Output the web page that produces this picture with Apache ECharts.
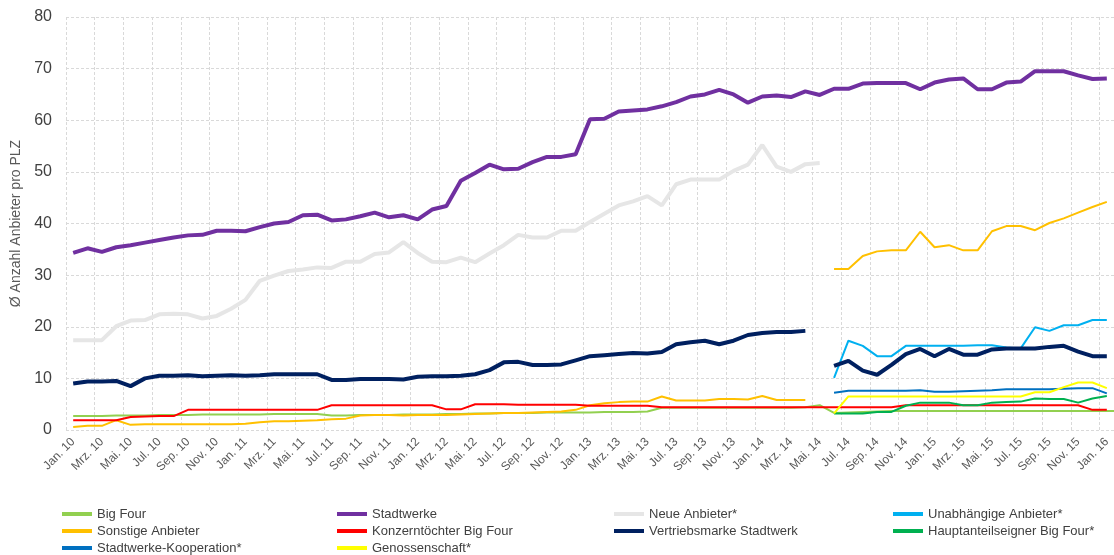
<!DOCTYPE html>
<html>
<head>
<meta charset="utf-8">
<script src="https://cdn.jsdelivr.net/npm/echarts@6/dist/echarts.min.js"></script>
<style>
html,body{margin:0;padding:0;background:#fff;}
#chart{width:1114px;height:555px;}
</style>
</head>
<body>
<div id="chart"></div>
<script>
// Tick label parts
const monthNames = ['Jan.','Feb.','Mrz.','Apr.','Mai.','Jun.','Jul.','Aug.','Sep.','Okt.','Nov.','Dez.'];
const years = ['10','11','12','13','14','15','16'];

// Series values (Jan. 10 .. Jan. 16, monthly)
const bigFour = [2.7,2.7,2.7,2.8,2.8,2.8,2.9,2.9,2.9,3.0,3.0,3.0,3.0,3.0,3.1,3.1,3.1,3.1,
  2.8,2.8,2.9,2.9,2.9,3.0,3.0,3.0,3.1,3.1,3.2,3.2,3.3,3.3,3.3,3.4,3.4,3.4,3.4,3.5,3.5,3.5,3.6,
  4.3,4.3,4.3,4.3,4.3,4.3,4.3,4.3,4.3,4.3,4.4,4.8,
  3.3,3.4,3.5,3.6,3.7,3.7,3.7,3.7,3.7,3.7,3.7,3.7,3.7,3.7,3.7,3.7,3.7,3.7,3.7,3.7,3.7];
const stadtwerke = [34.3,35.2,34.5,35.4,35.8,36.3,36.8,37.3,37.7,37.8,38.6,38.6,38.5,39.3,40.0,40.3,41.6,41.7,
  40.6,40.8,41.4,42.1,41.2,41.6,40.8,42.7,43.4,48.3,49.8,51.4,50.5,50.6,51.9,52.9,52.9,53.4,
  60.2,60.3,61.7,61.9,62.1,62.7,63.5,64.6,65.0,65.9,65.0,63.4,64.6,64.8,64.5,65.6,64.9,
  66.1,66.1,67.1,67.2,67.2,67.2,66.0,67.3,67.9,68.1,66.0,66.0,67.3,67.5,69.5,69.5,69.5,68.7,68.0,68.1];
const neueAnbieter = [17.4,17.4,17.4,20.1,21.2,21.3,22.4,22.5,22.4,21.6,22.1,23.5,25.2,28.9,29.9,30.8,31.1,31.5,
  31.4,32.6,32.6,34.1,34.4,36.4,34.3,32.6,32.5,33.4,32.5,34.2,35.8,37.8,37.3,37.3,38.6,38.6,
  40.3,41.9,43.5,44.3,45.3,43.5,47.6,48.5,48.5,48.5,50.2,51.4,55.2,51.0,50.0,51.5,51.7];
const sonstigeAnbieter1 = [0.6,0.8,0.8,1.9,1.0,1.1,1.1,1.1,1.1,1.1,1.1,1.1,1.2,1.5,1.7,1.7,1.8,1.9,
  2.1,2.2,2.8,2.9,2.9,2.8,2.9,2.9,2.9,3.0,3.1,3.2,3.3,3.3,3.4,3.5,3.6,3.9,
  4.8,5.2,5.4,5.5,5.5,6.5,5.7,5.7,5.7,6.0,6.0,5.9,6.6,5.8,5.8,5.8];
const sonstigeAnbieter2 = [31.2,31.2,33.7,34.6,34.8,34.8,38.4,35.4,35.8,34.8,34.8,38.5,39.5,39.5,38.7,40.1,41.0,42.1,43.2,44.2];
const konzerntoechter = [1.9,1.9,1.9,1.9,2.5,2.6,2.7,2.7,3.9,3.9,3.9,3.9,3.9,3.9,3.9,3.9,3.9,3.9,
  4.8,4.8,4.8,4.8,4.8,4.8,4.8,4.8,4.0,4.0,5.0,5.0,5.0,4.9,4.9,4.9,4.9,4.9,
  4.7,4.7,4.7,4.7,4.7,4.4,4.4,4.4,4.4,4.4,4.4,4.4,4.4,4.4,4.4,4.4,4.4,
  4.4,4.4,4.4,4.4,4.4,4.8,4.8,4.8,4.8,4.8,4.8,4.8,4.8,4.8,4.8,4.8,4.8,4.8,3.9,3.9];
const vertriebsmarke1 = [9.0,9.4,9.4,9.5,8.5,10.0,10.5,10.5,10.6,10.4,10.5,10.6,10.5,10.6,10.8,10.8,10.8,10.8,
  9.7,9.7,9.9,9.9,9.9,9.8,10.3,10.4,10.4,10.5,10.8,11.6,13.1,13.2,12.6,12.6,12.7,13.5,
  14.3,14.5,14.7,14.9,14.8,15.1,16.6,17.0,17.3,16.6,17.3,18.4,18.8,19.0,19.0,19.2];
const vertriebsmarke2 = [12.4,13.4,11.5,10.7,12.6,14.7,15.7,14.3,15.7,14.6,14.6,15.6,15.8,15.8,15.8,16.1,16.3,15.2,14.3,14.3];
// Series starting Jun. 14
const unabhaengige = [10.1,17.3,16.3,14.3,14.3,16.3,16.3,16.3,16.3,16.3,16.4,16.4,16.0,15.8,19.9,19.2,20.3,20.3,21.3,21.3];
const hauptanteilseigner = [3.2,3.2,3.2,3.5,3.5,4.7,5.3,5.3,5.3,4.8,4.8,5.3,5.4,5.5,6.1,6.0,6.0,5.3,6.1,6.6];
const kooperation = [7.2,7.6,7.6,7.6,7.6,7.6,7.7,7.4,7.4,7.5,7.6,7.7,7.9,7.9,7.9,7.9,8.0,8.1,8.1,7.1];
const genossenschaft = [3.2,6.5,6.5,6.5,6.5,6.5,6.5,6.5,6.5,6.5,6.5,6.5,6.5,6.5,7.3,7.3,8.3,9.2,9.2,8.1];

// categories Jan. 10 .. Jan. 16
const categories = [];
years.forEach((y, yi) => {
  monthNames.forEach(m => {
    if (yi < years.length - 1 || m === 'Jan.') categories.push(m + ' ' + y);
  });
});
const N = categories.length; // 73
const secondStart = 53; // Jun. 14

function full(arr) { const a = arr.slice(); while (a.length < N) a.push(null); return a; }
function late(arr) { const a = []; for (let i = 0; i < secondStart; i++) a.push(null); return full(a.concat(arr)); }
function split(a1, a2) { const a = a1.slice(); while (a.length < secondStart) a.push(null); return full(a.concat(a2)); }

const seriesData = {
  'Big Four': full(bigFour),
  'Stadtwerke': full(stadtwerke),
  'Neue Anbieter*': full(neueAnbieter),
  'Unabhängige Anbieter*': late(unabhaengige),
  'Sonstige Anbieter': split(sonstigeAnbieter1, sonstigeAnbieter2),
  'Konzerntöchter Big Four': full(konzerntoechter),
  'Vertriebsmarke Stadtwerk': split(vertriebsmarke1, vertriebsmarke2),
  'Hauptanteilseigner Big Four*': late(hauptanteilseigner),
  'Stadtwerke-Kooperation*': late(kooperation),
  'Genossenschaft*': late(genossenschaft)
};
const colors = {
  'Big Four': '#92D050', 'Stadtwerke': '#7030A0', 'Neue Anbieter*': '#E6E6E6',
  'Unabhängige Anbieter*': '#00B0F0', 'Sonstige Anbieter': '#FFC000',
  'Konzerntöchter Big Four': '#FF0000', 'Vertriebsmarke Stadtwerk': '#002060',
  'Hauptanteilseigner Big Four*': '#00B050', 'Stadtwerke-Kooperation*': '#0070C0',
  'Genossenschaft*': '#FFFF00'
};
const thick = { 'Stadtwerke': 4, 'Neue Anbieter*': 4, 'Vertriebsmarke Stadtwerk': 4 };
const drawOrder = ['Neue Anbieter*','Big Four','Sonstige Anbieter','Konzerntöchter Big Four','Hauptanteilseigner Big Four*',
  'Stadtwerke-Kooperation*','Genossenschaft*','Unabhängige Anbieter*','Vertriebsmarke Stadtwerk','Stadtwerke'];

const FONT = '"Liberation Sans", Arial, sans-serif';
const legendCols = [
  { left: 62, data: ['Big Four','Sonstige Anbieter','Stadtwerke-Kooperation*'] },
  { left: 337, data: ['Stadtwerke','Konzerntöchter Big Four','Genossenschaft*'] },
  { left: 614, data: ['Neue Anbieter*','Vertriebsmarke Stadtwerk'] },
  { left: 893, data: ['Unabhängige Anbieter*','Hauptanteilseigner Big Four*'] }
];

const chart = echarts.init(document.getElementById('chart'), null, { renderer: 'canvas' });
chart.setOption({
  animation: false,
  backgroundColor: '#fff',
  textStyle: { fontFamily: FONT },
  grid: { left: 66, top: 17, width: 1052, height: 413, containLabel: false },
  legend: legendCols.map(c => ({
    orient: 'vertical', left: c.left, top: 507, height: 48, itemGap: 3,
    itemWidth: 30, itemHeight: 4, icon: 'rect', padding: 0,
    selectedMode: false,
    textStyle: { fontFamily: FONT, fontSize: 13, color: '#404040', lineHeight: 14 },
    data: c.data
  })),
  xAxis: {
    type: 'category', data: categories, boundaryGap: true,
    axisLine: { show: false }, axisTick: { show: false },
    axisLabel: { interval: 1, rotate: 45, fontSize: 12, color: '#595959', margin: 10, fontFamily: FONT },
    splitLine: { show: true, interval: 1, lineStyle: { color: '#D9D9D9', type: [3, 2], width: 1 } }
  },
  yAxis: {
    type: 'value', min: 0, max: 80, interval: 10,
    name: 'Ø Anzahl Anbieter pro PLZ', nameLocation: 'middle', nameGap: 42,
    nameTextStyle: { fontSize: 14, color: '#595959', fontFamily: FONT },
    axisLine: { show: false }, axisTick: { show: false },
    axisLabel: { fontSize: 16, color: '#404040', margin: 14, fontFamily: FONT },
    splitLine: { lineStyle: { color: '#D9D9D9', type: [3, 2], width: 1 } }
  },
  series: drawOrder.map(name => ({
    name: name, type: 'line', data: seriesData[name],
    showSymbol: false, symbol: 'none', connectNulls: false, smooth: false,
    itemStyle: { color: colors[name] },
    lineStyle: { color: colors[name], width: thick[name] || 2 }
  }))
});
</script>
</body>
</html>
